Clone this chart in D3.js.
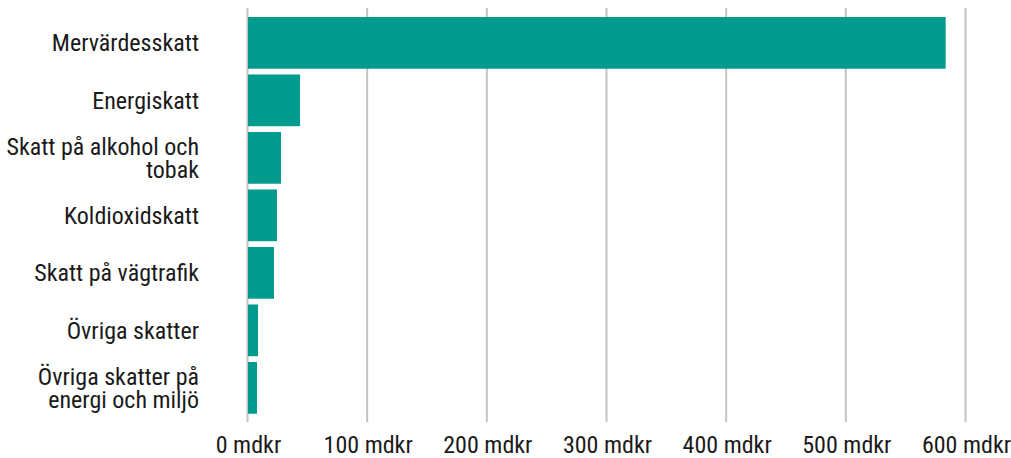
<!DOCTYPE html>
<html>
<head>
<meta charset="utf-8">
<script src="https://cdn.jsdelivr.net/npm/d3@7"></script>
<style>
  html, body { margin: 0; padding: 0; background: #fff; }
  svg text { font-family: "Roboto Condensed", Roboto, "Noto Sans", sans-serif; fill: #1a1a1a; }
</style>
</head>
<body>
<svg id="chart" width="1011" height="458"></svg>
<script>
// Skatteintäkter per skatteslag (miljarder kronor)
const categories = [
  ["Mervärdesskatt"],
  ["Energiskatt"],
  ["Skatt på alkohol och", "tobak"],
  ["Koldioxidskatt"],
  ["Skatt på vägtrafik"],
  ["Övriga skatter"],
  ["Övriga skatter på", "energi och miljö"]
];
const values = [583, 43.5, 27.6, 24.2, 21.7, 8.4, 7.5];
const tickValues = [0, 100, 200, 300, 400, 500, 600];
const tickLabels = ["0 mdkr", "100 mdkr", "200 mdkr", "300 mdkr", "400 mdkr", "500 mdkr", "600 mdkr"];

const svg = d3.select("#chart");
const fontSize = 24;

const x = d3.scaleLinear().domain([0, 600]).range([248, 966]);
const y = d3.scaleBand()
  .domain(d3.range(categories.length))
  .range([14.1, 416.6])
  .paddingInner(0.1)
  .paddingOuter(0.05);

// vertical gridlines
svg.append("g")
  .selectAll("line")
  .data(tickValues)
  .join("line")
  .attr("x1", d => x(d) - 0.5)
  .attr("x2", d => x(d) - 0.5)
  .attr("y1", 8)
  .attr("y2", 422)
  .attr("stroke", "#c2c2c2")
  .attr("stroke-width", 2);

// bars
svg.append("g")
  .selectAll("rect")
  .data(values)
  .join("rect")
  .attr("x", x(0))
  .attr("y", (d, i) => y(i))
  .attr("width", d => x(d) - x(0))
  .attr("height", y.bandwidth())
  .attr("fill", "#029b8e");

// x tick labels
const xAxis = d3.axisBottom(x)
  .tickValues(tickValues)
  .tickFormat((d, i) => tickLabels[i])
  .tickSize(0)
  .tickPadding(0);
const gx = svg.append("g").attr("transform", "translate(0,453)").call(xAxis);
gx.select(".domain").remove();
gx.selectAll("text")
  .attr("y", 0)
  .attr("dy", null)
  .attr("font-size", fontSize)
  .attr("font-family", null)
  .attr("fill", null);

// category labels
const lineH = 23;
const labels = svg.append("g")
  .selectAll("text")
  .data(categories)
  .join("text")
  .attr("text-anchor", "end")
  .attr("font-size", fontSize)
  .attr("transform", (d, i) => `translate(199,${y(i) + y.bandwidth() / 2})`);
labels.selectAll("tspan")
  .data(d => d.map((t, k) => ({ t, k, n: d.length })))
  .join("tspan")
  .attr("x", 0)
  .attr("y", d => (d.k - (d.n - 1) / 2) * lineH + 8.5)
  .text(d => d.t);
</script>
</body>
</html>
